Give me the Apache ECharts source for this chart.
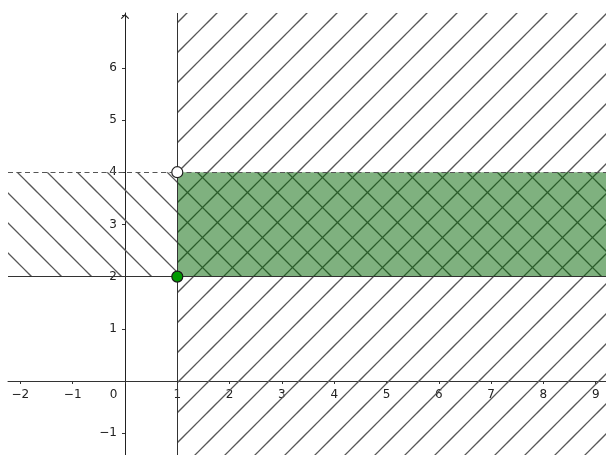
<!DOCTYPE html>
<html><head><meta charset="utf-8">
<script src="https://cdn.jsdelivr.net/npm/echarts@6/dist/echarts.min.js"></script>
<style>html,body{margin:0;padding:0;background:#fff}#c{width:606px;height:455px}</style>
</head><body><div id="c"></div>
<script>
// View window (data units)
const xRange = [-2.237, 9.197];
const yRange = [-1.418, 7.05];
// Inequalities: x >= 1  and  2 <= y < 4
const boundaryX = [1];
const stripY = [2, 4];
// Points
const closedPoints = [[1, 2]];
const openPoints = [[1, 4]];

function hatch(dir, off) {
  const s = 30;
  const c = document.createElement('canvas');
  c.width = s; c.height = s;
  const g = c.getContext('2d');
  g.strokeStyle = '#575757'; g.lineWidth = 1.25;
  for (let k = -2; k <= 2; k++) {
    const b = off + k * s;
    g.beginPath();
    if (dir === '/') { g.moveTo(-s, b + s); g.lineTo(2 * s, b - 2 * s); }
    else { g.moveTo(-s, b - s); g.lineTo(2 * s, b + 2 * s); }
    g.stroke();
  }
  return c;
}
const fwdPattern = { image: hatch('/', 20), repeat: 'repeat' };
const backPattern = { image: hatch('\\', 5), repeat: 'repeat' };

function region(name, z, fill, kind) {
  return {
    type: 'custom', name, z, silent: true, animation: false,
    data: [[boundaryX[0], stripY[0]]],
    renderItem(params, api) {
      const cs = params.coordSys;
      const x1 = api.coord([boundaryX[0], 0])[0];
      const yTop = api.coord([0, stripY[1]])[1];
      const yBot = api.coord([0, stripY[0]])[1];
      let shape;
      if (kind === 'half') shape = { x: x1, y: cs.y, width: cs.x + cs.width - x1, height: cs.height };
      else if (kind === 'strip') shape = { x: cs.x, y: yTop, width: cs.width, height: yBot - yTop };
      else shape = { x: x1, y: yTop, width: cs.x + cs.width - x1, height: yBot - yTop };
      return { type: 'rect', shape, style: { fill } };
    }
  };
}

const labelFont = { fontFamily: 'DejaVu Sans', fontSize: 12, color: '#222' };
function fmt(v, isX) {
  if (Math.abs(v - Math.round(v)) > 1e-9) return '';
  v = Math.round(v);
  if (v === 0) return isX ? '{z|0}' : '';
  if (!isX && v > yRange[1] - 0.5) return '';
  return v < 0 ? '\u2212' + (-v) : String(v);
}

const chart = echarts.init(document.getElementById('c'), null, { renderer: 'canvas' });
chart.setOption({
  animation: false,
  backgroundColor: '#fff',
  grid: { left: 8, right: 0, top: 13, bottom: 0, containLabel: false, outerBoundsMode: 'none' },
  xAxis: {
    type: 'value', min: xRange[0], max: xRange[1], minInterval: 1, maxInterval: 1,
    axisLine: { onZero: false, lineStyle: { color: '#333', width: 1 } },
    axisTick: { show: true, length: 3, lineStyle: { color: '#333' } },
    splitLine: { show: false },
    axisLabel: Object.assign({ margin: 8, showMinLabel: false, showMaxLabel: false,
      formatter: v => fmt(v, true),
      rich: { z: Object.assign({ padding: [0, 23, 0, 0] }, labelFont) } }, labelFont)
  },
  yAxis: {
    type: 'value', min: yRange[0], max: yRange[1], minInterval: 1, maxInterval: 1,
    axisLine: { onZero: false, symbol: ['none', 'path://M0,5 L5,0 L10,5 L9,6 L5,2 L1,6 Z'],
      symbolSize: [9, 5], symbolOffset: [0, -3.5], lineStyle: { color: '#222', width: 1 } },
    axisTick: { show: true, length: 3, lineStyle: { color: '#333' } },
    splitLine: { show: false },
    axisLabel: Object.assign({ margin: 8, showMinLabel: false, showMaxLabel: false,
      formatter: v => fmt(v, false) }, labelFont)
  },
  series: [
    region('half', 1, fwdPattern, 'half'),
    region('strip', 1, backPattern, 'strip'),
    {
      type: 'line', data: [], z: 2, silent: true,
      markLine: {
        silent: true, symbol: 'none', animation: false, label: { show: false },
        lineStyle: { color: '#333', width: 1, type: 'solid' },
        emphasis: { disabled: true },
        data: [{ xAxis: boundaryX[0] }, { yAxis: stripY[0] }]
      }
    },
    region('both', 3, 'rgba(0,100,0,0.5)', 'both'),
    {
      type: 'line', data: [], z: 4, silent: true,
      markLine: {
        silent: true, symbol: 'none', animation: false, label: { show: false },
        lineStyle: { color: '#555', width: 1, type: [5, 3.5] },
        emphasis: { disabled: true },
        data: [{ yAxis: stripY[1] }]
      }
    },
    {
      type: 'scatter', z: 5, silent: true, symbol: 'circle', symbolSize: 11,
      data: openPoints,
      itemStyle: { color: '#fff', borderColor: '#222', borderWidth: 1.2, opacity: 1 }
    },
    {
      type: 'scatter', z: 5, silent: true, symbol: 'circle', symbolSize: 11,
      data: closedPoints,
      itemStyle: { color: '#009a00', borderColor: '#1a1a1a', borderWidth: 1.2, opacity: 1 }
    }
  ]
});
// Move the axes (line, ticks, labels) onto the origin, as in the reference
const origin = chart.convertToPixel({ gridIndex: 0 }, [0, 0]);
const corner = chart.convertToPixel({ gridIndex: 0 }, [xRange[0], yRange[0]]);
chart.setOption({
  xAxis: { offset: -(corner[1] - origin[1]) },
  yAxis: { offset: -(origin[0] - corner[0]) }
});
</script>
</body></html>
